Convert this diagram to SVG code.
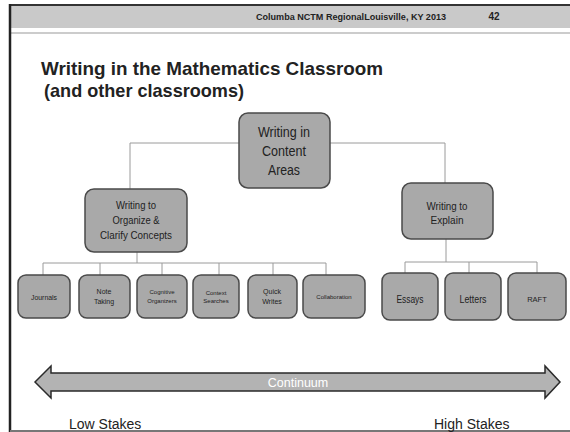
<svg xmlns="http://www.w3.org/2000/svg" width="570" height="432" viewBox="0 0 570 432">
<style>
.box{fill:#a9a9a9;stroke:#4a4a4a;stroke-width:1.5}
.conn{fill:none;stroke:#9a9a9a;stroke-width:1}
.n{font-family:"Liberation Sans Narrow","Liberation Sans",Arial,sans-serif;fill:#222;text-anchor:middle}
.t{font-family:"Liberation Sans",Arial,sans-serif;fill:#222}
</style>
<rect width="570" height="432" fill="#ffffff"/>
<g id="frame">
<rect x="10" y="5" width="560" height="23" fill="#c9c9c9"/>
<line x1="9" y1="5" x2="570" y2="5" stroke="#333" stroke-width="2"/>
<line x1="10" y1="33" x2="570" y2="33" stroke="#999" stroke-width="1"/>
<line x1="10" y1="4" x2="10" y2="432" stroke="#222" stroke-width="2.5"/>
<line x1="10" y1="431" x2="570" y2="431" stroke="#777" stroke-width="2"/>
<text class="n" x="351" y="20" font-size="9" font-weight="bold" textLength="190" lengthAdjust="spacingAndGlyphs">Columba NCTM RegionalLouisville, KY 2013</text>
<text class="n" x="494" y="20" font-size="10" font-weight="bold">42</text>
</g>
<g id="title">
<text class="t" x="41" y="75" font-size="18.5" font-weight="bold" textLength="342" lengthAdjust="spacingAndGlyphs">Writing in the Mathematics Classroom</text>
<text class="t" x="44" y="97" font-size="18.5" font-weight="bold" textLength="200" lengthAdjust="spacingAndGlyphs">(and other classrooms)</text>
</g>
<g id="connectors">
<path class="conn" d="M130 190 V143 H445 V183"/>
<path class="conn" d="M137 252 V263 M43 275 V263 H326 V275 M100 263 V275 M162 263 V275 M219 263 V275 M273 263 V275"/>
<path class="conn" d="M446 239 V262 M405 273 V262 H537 V273 M469 262 V273"/>
</g>
<g id="root"><rect class="box" x="239" y="113" width="91" height="75" rx="9"/>
<text class="n" x="284" y="137" font-size="14" textLength="52" lengthAdjust="spacingAndGlyphs">Writing in</text>
<text class="n" x="284" y="156" font-size="14" textLength="44" lengthAdjust="spacingAndGlyphs">Content</text>
<text class="n" x="284" y="175" font-size="14" textLength="32" lengthAdjust="spacingAndGlyphs">Areas</text></g>
<g id="organize"><rect class="box" x="85" y="189" width="102" height="63" rx="9"/>
<text class="n" x="136" y="209" font-size="10.5" textLength="40" lengthAdjust="spacingAndGlyphs">Writing to</text>
<text class="n" x="136" y="224" font-size="10.5" textLength="47" lengthAdjust="spacingAndGlyphs">Organize &amp;</text>
<text class="n" x="136" y="239" font-size="10.5" textLength="72" lengthAdjust="spacingAndGlyphs">Clarify Concepts</text></g>
<g id="explain"><rect class="box" x="402" y="183" width="91" height="56" rx="9"/>
<text class="n" x="447" y="210" font-size="10.5" textLength="41" lengthAdjust="spacingAndGlyphs">Writing to</text>
<text class="n" x="447" y="224" font-size="10.5" textLength="33" lengthAdjust="spacingAndGlyphs">Explain</text></g>
<g id="journals"><rect class="box" x="18" y="275" width="52" height="43" rx="8"/>
<text class="n" x="44" y="300" font-size="6.5" textLength="26" lengthAdjust="spacingAndGlyphs">Journals</text></g>
<g id="notetaking"><rect class="box" x="79" y="275" width="51" height="43" rx="8"/>
<text class="n" x="104" y="294" font-size="7">Note</text>
<text class="n" x="104" y="304" font-size="7">Taking</text></g>
<g id="cognitive"><rect class="box" x="137" y="275" width="50" height="43" rx="8"/>
<text class="n" x="162" y="294" font-size="6">Cognitive</text>
<text class="n" x="162" y="303" font-size="6">Organizers</text></g>
<g id="context"><rect class="box" x="193" y="275" width="46" height="43" rx="8"/>
<text class="n" x="216" y="295" font-size="6">Context</text>
<text class="n" x="216" y="303" font-size="6">Searches</text></g>
<g id="quick"><rect class="box" x="248" y="275" width="49" height="43" rx="8"/>
<text class="n" x="272" y="294" font-size="7">Quick</text>
<text class="n" x="272" y="304" font-size="7">Writes</text></g>
<g id="collab"><rect class="box" x="303" y="275" width="62" height="43" rx="8"/>
<text class="n" x="334" y="299" font-size="6">Collaboration</text></g>
<g id="essays"><rect class="box" x="382" y="273" width="56" height="47" rx="8"/>
<text class="n" x="410" y="303" font-size="10" textLength="27" lengthAdjust="spacingAndGlyphs">Essays</text></g>
<g id="letters"><rect class="box" x="445" y="273" width="56" height="47" rx="8"/>
<text class="n" x="473" y="303" font-size="10" textLength="27" lengthAdjust="spacingAndGlyphs">Letters</text></g>
<g id="raft"><rect class="box" x="508" y="273" width="58" height="47" rx="8"/>
<text class="n" x="537" y="302" font-size="7.5">RAFT</text></g>
<g id="continuum">
<path d="M35 382 L51 366 V373 H545 V366 L560 382 L545 398 V391 H51 V398 Z" fill="#b3b3b3" stroke="#2a2a2a" stroke-width="1.5" stroke-linejoin="miter"/>
<text x="298" y="387" font-family="Liberation Sans,Arial,sans-serif" font-size="12.5" fill="#ffffff" text-anchor="middle">Continuum</text>
</g>
<g id="stakes">
<text class="t" x="69" y="429" font-size="14">Low Stakes</text>
<text class="t" x="434" y="429" font-size="14">High Stakes</text>
</g>
</svg>
